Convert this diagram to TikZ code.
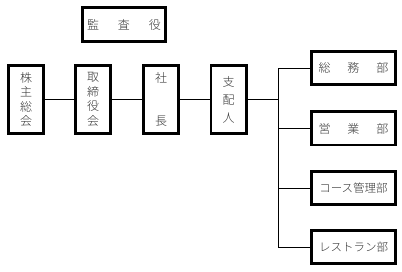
\documentclass[tikz,border=0pt]{standalone}
\usepackage{fontspec}
\newfontfamily\jp{Noto Sans CJK JP Light}
\begin{document}
\begin{tikzpicture}[x=1pt,y=-1pt,
  box/.style={draw=black,line width=2.6pt,inner sep=0pt,font=\jp\fontsize{12}{14.5}\selectfont,text=black!80,align=center},
  vbox/.style={box,minimum width=35.4pt,minimum height=68.4pt},
  hbox/.style={box,minimum width=84.4pt,minimum height=33.4pt},
  conn/.style={line width=0.9pt}]
\useasboundingbox (0,0) rectangle (402,272);
\node[box,minimum width=83.4pt,minimum height=34.4pt] (k) at (124,24.5) {監\hspace{19pt}査\hspace{19pt}役};
\node[vbox] (a) at (26,99.5) {株\\主\\総\\会};
\node[vbox] (b) at (93,99.5) {取\\締\\役\\会};
\node[vbox] (c) at (161,99.5) {社\\[29pt]長};
\node[vbox,font=\jp\fontsize{12}{18}\selectfont] (d) at (228.5,99.5) {支\\配\\人};
\node[hbox] (r1) at (353.5,68) {総\hspace{17pt}務\hspace{17pt}部};
\node[hbox] (r2) at (353.5,128.5) {営\hspace{17pt}業\hspace{17pt}部};
\node[hbox,font=\jp\fontsize{11.5}{14}\selectfont] (r3) at (353.5,188) {コース管理部};
\node[hbox,font=\jp\fontsize{11.5}{14}\selectfont] (r4) at (353.5,247) {レストラン部};
\coordinate (j) at (278,99.5);
\draw[conn] (a) -- (b);
\draw[conn] (b) -- (c);
\draw[conn] (c) -- (d);
\draw[conn] (d) -- (j);
\draw[conn] (r1.west) -| (j);
\draw[conn] (r4.west) -| (j);
\draw[conn] (r2.west) -- (r2.west -| j);
\draw[conn] (r3.west) -- (r3.west -| j);
\end{tikzpicture}
\end{document}
